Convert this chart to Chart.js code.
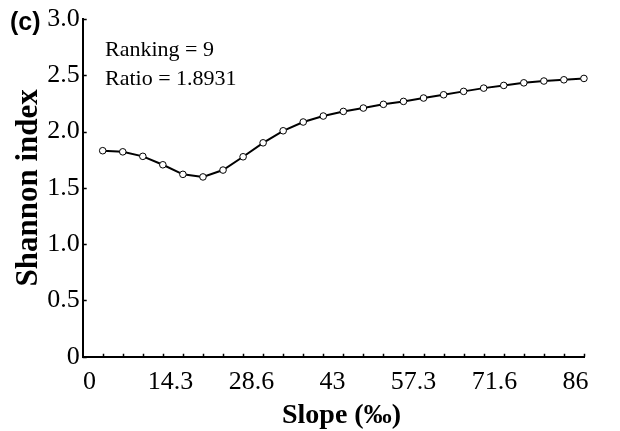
<!DOCTYPE html>
<html>
<head>
<meta charset="utf-8">
<style>
  html, body { margin: 0; padding: 0; background: #ffffff; }
  #wrap { width: 620px; height: 431px; }
</style>
<script src="https://cdn.jsdelivr.net/npm/chart.js@4.4.1/dist/chart.umd.min.js"></script>
</head>
<body>
<div id="wrap"><canvas id="chart" width="620" height="431"></canvas></div>
<script>
// Slope class midpoints (‰) and the Shannon diversity index for each class
const slope = [2.34, 5.89, 9.44, 12.98, 16.53, 20.08, 23.63, 27.18, 30.72, 34.27,
               37.82, 41.37, 44.92, 48.46, 52.01, 55.56, 59.11, 62.66, 66.20, 69.75,
               73.30, 76.85, 80.40, 83.94, 87.49];
const shannon = [1.83, 1.82, 1.78, 1.705, 1.62, 1.597, 1.658, 1.776, 1.90, 2.007,
                 2.085, 2.138, 2.179, 2.209, 2.242, 2.268, 2.298, 2.327, 2.357, 2.386,
                 2.41, 2.433, 2.449, 2.46, 2.472];

// Axis tick positions and their printed labels
const xTickValues = [0, 14.333, 28.667, 43, 57.333, 71.667, 86];
const xTickLabels = ['0', '14.3', '28.6', '43', '57.3', '71.6', '86'];
const yTickValues = [0, 0.5, 1, 1.5, 2, 2.5, 3];
const yTickLabels = ['0', '0.5', '1.0', '1.5', '2.0', '2.5', '3.0'];

// Axis titles, panel tag and inset notes
const xTitle = 'Slope (‰)';
const yTitle = 'Shannon index';
const panelTag = '(c)';
const notes = ['Ranking = 9', 'Ratio = 1.8931'];

const SERIF = "'Liberation Serif', 'Times New Roman', serif";
const SANS = "'Liberation Sans', Arial, sans-serif";

// Small inward tick marks, x title, panel tag and inset text
const decorations = {
  id: 'decorations',
  afterDraw(chart) {
    const { ctx, chartArea, scales } = chart;
    const xs = scales.x, ys = scales.y;
    ctx.save();
    ctx.strokeStyle = '#000';
    ctx.lineWidth = 1.5;
    ctx.beginPath();
    slope.forEach(v => {
      const px = Math.round(xs.getPixelForValue(v)) + 0.5;
      ctx.moveTo(px, chartArea.bottom);
      ctx.lineTo(px, chartArea.bottom - 3);
    });
    yTickValues.forEach(v => {
      const py = Math.round(ys.getPixelForValue(v)) + 0.5;
      ctx.moveTo(chartArea.left, py);
      ctx.lineTo(chartArea.left + 4, py);
    });
    ctx.stroke();

    ctx.fillStyle = '#000';

    // x-axis title, centred under the labelled range 0–86
    ctx.textAlign = 'center';
    ctx.textBaseline = 'middle';
    ctx.font = 'bold 28px ' + SERIF;
    const cx = (xs.getPixelForValue(0) + xs.getPixelForValue(86)) / 2 + 9;
    ctx.fillText(xTitle, cx, 416);

    ctx.textAlign = 'left';
    ctx.textBaseline = 'alphabetic';
    ctx.font = 'bold 25px ' + SANS;
    ctx.fillText(panelTag, 10, 30);

    ctx.font = '22px ' + SERIF;
    ctx.fillText(notes[0], 105, 56);
    ctx.fillText(notes[1], 105, 85);
    ctx.restore();
  }
};

new Chart(document.getElementById('chart'), {
  type: 'line',
  data: {
    datasets: [{
      data: slope.map((s, i) => ({ x: s, y: shannon[i] })),
      borderColor: '#000',
      borderWidth: 2,
      pointRadius: 3.3,
      pointBorderWidth: 1,
      pointBackgroundColor: '#fff',
      pointBorderColor: '#000',
      tension: 0,
      fill: false,
      clip: false
    }]
  },
  options: {
    responsive: false,
    animation: false,
    devicePixelRatio: 1,
    layout: { padding: { top: 19, right: 36, bottom: 0, left: 0 } },
    plugins: { legend: { display: false }, tooltip: { enabled: false } },
    scales: {
      x: {
        type: 'linear',
        position: 'bottom',
        min: -1.2,
        max: 87.5,
        afterBuildTicks: s => { s.ticks = xTickValues.map(v => ({ value: v })); },
        afterFit: s => { s.height = 74.3; },
        ticks: {
          callback: (v, i) => xTickLabels[i],
          font: { family: SERIF, size: 26 },
          color: '#000',
          padding: 10,
          maxRotation: 0,
          autoSkip: false
        },
        grid: { display: false, drawTicks: false },
        border: { display: true, color: '#000', width: 2 },
        title: { display: false }
      },
      y: {
        type: 'linear',
        position: 'left',
        min: 0,
        max: 3,
        afterBuildTicks: s => { s.ticks = yTickValues.map(v => ({ value: v })); },
        afterFit: s => { s.width = 82.7; },
        ticks: {
          callback: (v, i) => yTickLabels[i],
          font: { family: SERIF, size: 26 },
          color: '#000',
          padding: 3
        },
        grid: { display: false, drawTicks: false },
        border: { display: true, color: '#000', width: 2 },
        title: {
          display: true,
          text: yTitle,
          color: '#000',
          font: { family: SERIF, size: 31, weight: 'bold', lineHeight: 1 },
          padding: { top: 13, bottom: 0 }
        }
      }
    }
  },
  plugins: [decorations]
});
</script>
</body>
</html>
